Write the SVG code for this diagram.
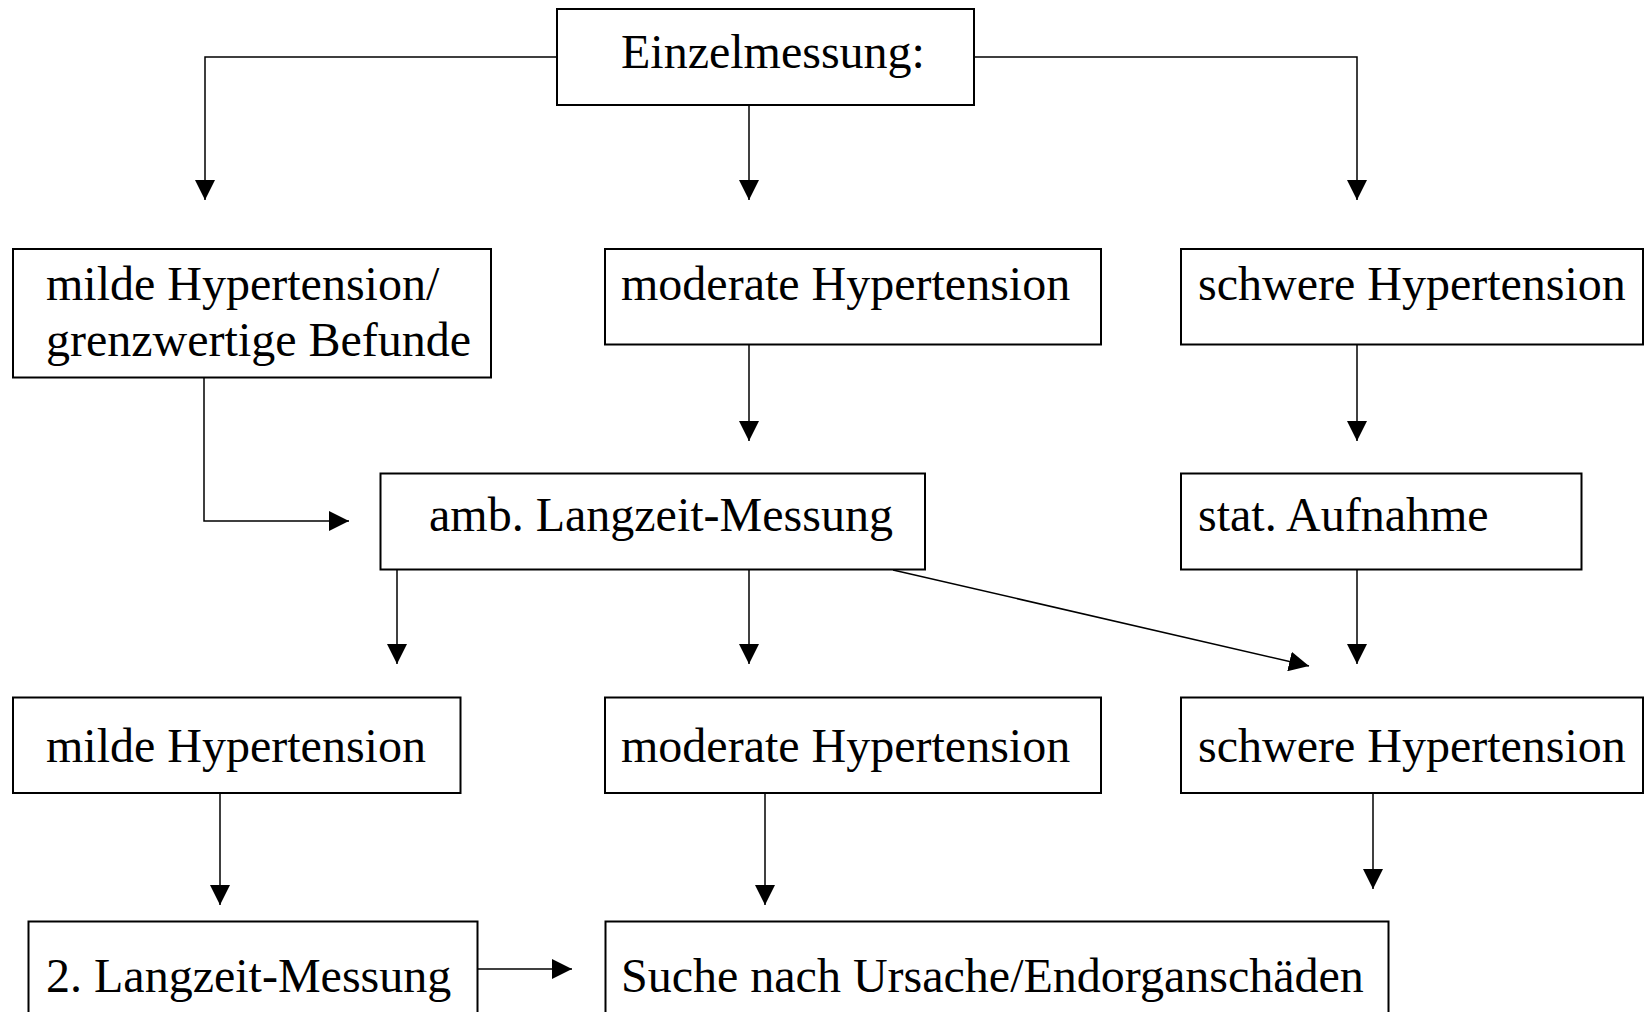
<svg xmlns="http://www.w3.org/2000/svg" width="1645" height="1012" viewBox="0 0 1645 1012">
<style>
.box{fill:#fff;stroke:#000;stroke-width:2}
.t{font-family:"Liberation Serif","Times New Roman",serif;font-size:48px;fill:#000}
.c{fill:none;stroke:#000;stroke-width:1.5;marker-end:url(#ah)}
</style>
<defs>
<marker id="ah" markerUnits="userSpaceOnUse" markerWidth="20" markerHeight="20" refX="20" refY="10" orient="auto">
<path d="M0,0 L20,10 L0,20 z" fill="#000"/>
</marker>
</defs>
<rect width="1645" height="1012" fill="#fff"/>
<g id="connectors">
<path class="c" d="M557,57 H205 V200"/>
<path class="c" d="M749,105 V200"/>
<path class="c" d="M973,57 H1357 V200"/>
<path class="c" d="M749,345 V441"/>
<path class="c" d="M1357,345 V441"/>
<path class="c" d="M204,377 V521 H349"/>
<path class="c" d="M397,570 V664"/>
<path class="c" d="M749,570 V664"/>
<path class="c" d="M893,570 L1309,666"/>
<path class="c" d="M1357,570 V664"/>
<path class="c" d="M220,793 V905"/>
<path class="c" d="M765,793 V905"/>
<path class="c" d="M1373,793 V889"/>
<path class="c" d="M477,969 H572"/>
</g>
<g id="n-einzel"><rect class="box" x="557" y="9" width="417" height="96"/><text class="t" x="621" y="68">Einzelmessung:</text></g>
<g id="n-milde1"><rect class="box" x="13" y="249" width="478" height="128.5"/><text class="t" x="46" y="300">milde Hypertension/</text><text class="t" x="46" y="356">grenzwertige Befunde</text></g>
<g id="n-moderate1"><rect class="box" x="605" y="249" width="496" height="95.5"/><text class="t" x="621" y="300">moderate Hypertension</text></g>
<g id="n-schwere1"><rect class="box" x="1181" y="249" width="462" height="95.5"/><text class="t" x="1198" y="300">schwere Hypertension</text></g>
<g id="n-amb"><rect class="box" x="380.5" y="473.5" width="544.5" height="96"/><text class="t" x="429" y="531">amb. Langzeit-Messung</text></g>
<g id="n-stat"><rect class="box" x="1181" y="473.5" width="400.5" height="96"/><text class="t" x="1198" y="531">stat. Aufnahme</text></g>
<g id="n-milde3"><rect class="box" x="13" y="697.5" width="447.5" height="95.5"/><text class="t" x="46" y="762">milde Hypertension</text></g>
<g id="n-moderate3"><rect class="box" x="605" y="697.5" width="496" height="95.5"/><text class="t" x="621" y="762">moderate Hypertension</text></g>
<g id="n-schwere3"><rect class="box" x="1181" y="697.5" width="462" height="95.5"/><text class="t" x="1198" y="762">schwere Hypertension</text></g>
<g id="n-lang2"><rect class="box" x="28.5" y="921.5" width="449" height="120"/><text class="t" x="46" y="992">2. Langzeit-Messung</text></g>
<g id="n-suche"><rect class="box" x="605.5" y="921.5" width="783" height="120"/><text class="t" x="621" y="992">Suche nach Ursache/Endorganschäden</text></g>
</svg>
